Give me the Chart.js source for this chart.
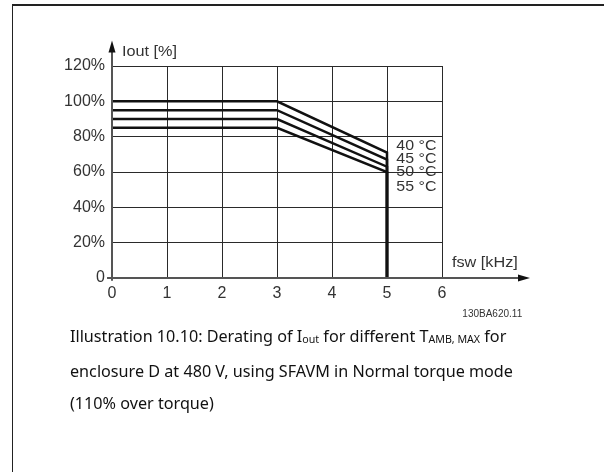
<!DOCTYPE html>
<html>
<head>
<meta charset="utf-8">
<script src="https://cdn.jsdelivr.net/npm/chart.js@4/dist/chart.umd.min.js"></script>
<style>
  html, body { margin: 0; padding: 0; background: #fff; }
  body { width: 604px; height: 472px; position: relative; overflow: hidden; }
  #frame { position: absolute; left: 12px; top: 4px; width: 620px; height: 500px;
           border-left: 1px solid #222; border-top: 2px solid #222; box-sizing: border-box; }
  #c { position: absolute; left: 0; top: 0; }
  #caption { position: absolute; left: 70px; top: 320px; font-family: 'Noto Sans', 'DejaVu Sans', sans-serif;
             font-size: 16.5px; line-height: 32px; color: #111; white-space: nowrap; }
  #caption div { transform-origin: 0 50%; }
  .sub { font-size: 0.66em; vertical-align: -0.12em; }
</style>
</head>
<body>
<div id="frame"></div>
<canvas id="c" width="604" height="472"></canvas>
<div id="caption">
  <div class="ln">Illustration 10.10: Derating of I<span class="sub">out</span> for different T<span class="sub">AMB, MAX</span> for</div>
  <div class="ln">enclosure D at 480 V, using SFAVM in Normal torque mode</div>
  <div class="ln">(110% over torque)</div>
</div>
<script>
// ---- data ----
const freqKHz   = [0, 3, 5, 5];
const iout40C   = [100, 100, 71, 0];
const iout45C   = [95, 95, 67, 0];
const iout50C   = [90, 90, 63, 0];
const iout55C   = [85, 85, 60, 0];
const tempLabels = ['40 °C', '45 °C', '50 °C', '55 °C'];
const tempLabelY = [75, 67.5, 59.8, 51.5];
const xTickValues = [0, 1, 2, 3, 4, 5, 6];
const yTickValues = [0, 20, 40, 60, 80, 100, 120];
const yAxisTitle = 'Iout [%]';
const xAxisTitle = 'fsw [kHz]';
const drawingCode = '130BA620.11';

const seriesList = [iout40C, iout45C, iout50C, iout55C];
const pts = arr => freqKHz.map((x, i) => ({ x: x, y: arr[i] }));

const FONT = "'Liberation Sans', Arial, sans-serif";
const TXT = '#333';

function stretchedText(ctx, text, x, y, sx) {
  ctx.save();
  ctx.translate(x, y);
  ctx.scale(sx, 1);
  ctx.fillText(text, 0, 0);
  ctx.restore();
}

const decor = {
  id: 'decor',
  afterDraw(chart) {
    const ctx = chart.ctx;
    const xs = chart.scales.x, ys = chart.scales.y;
    const x0 = xs.getPixelForValue(0), y0 = ys.getPixelForValue(0);
    ctx.save();
    // axes
    ctx.strokeStyle = '#555';
    ctx.fillStyle = '#111';
    ctx.lineWidth = 2;
    const yTop = ys.getPixelForValue(134.5);
    const xEnd = xs.getPixelForValue(7.6);
    ctx.beginPath();
    ctx.moveTo(x0, ys.getPixelForValue(-1.5));
    ctx.lineTo(x0, yTop + 10);
    ctx.moveTo(xs.getPixelForValue(-0.09), y0);
    ctx.lineTo(xEnd - 10, y0);
    ctx.stroke();
    // arrow heads
    ctx.beginPath();
    ctx.moveTo(x0, yTop); ctx.lineTo(x0 - 3.5, yTop + 12); ctx.lineTo(x0 + 3.5, yTop + 12); ctx.closePath();
    ctx.fill();
    ctx.beginPath();
    ctx.moveTo(xEnd, y0); ctx.lineTo(xEnd - 12, y0 - 3.5); ctx.lineTo(xEnd - 12, y0 + 3.5); ctx.closePath();
    ctx.fill();
    // titles
    ctx.fillStyle = TXT;
    ctx.textBaseline = 'middle';
    ctx.textAlign = 'left';
    ctx.font = '14.5px ' + FONT;
    stretchedText(ctx, yAxisTitle, xs.getPixelForValue(0.18), ys.getPixelForValue(127.8), 1.12);
    stretchedText(ctx, xAxisTitle, xs.getPixelForValue(6.18), ys.getPixelForValue(8.5), 1.12);
    // temperature labels
    tempLabels.forEach((t, i) => {
      stretchedText(ctx, t, xs.getPixelForValue(5.17), ys.getPixelForValue(tempLabelY[i]), 1.1);
    });
    // drawing code
    ctx.font = '10px ' + FONT;
    ctx.fillText(drawingCode, xs.getPixelForValue(6.37), ys.getPixelForValue(-20.3));
    ctx.restore();
  }
};

new Chart(document.getElementById('c'), {
  type: 'line',
  data: {
    datasets: seriesList.map((s, i) => ({
      label: tempLabels[i],
      data: pts(s),
      borderColor: '#111',
      borderWidth: 2.5,
      pointRadius: 0,
      tension: 0,
      fill: false
    }))
  },
  options: {
    responsive: false,
    animation: false,
    devicePixelRatio: 1,
    layout: { padding: { left: 0, top: 66, right: 162, bottom: 164 } },
    plugins: { legend: { display: false }, tooltip: { enabled: false } },
    scales: {
      x: {
        type: 'linear', min: 0, max: 6,
        afterFit: s => { s.height = 30; },
        afterBuildTicks: s => { s.ticks = xTickValues.map(v => ({ value: v })); },
        ticks: { stepSize: 1, color: TXT, font: { size: 16, family: FONT }, padding: 6, maxRotation: 0 },
        grid: { color: c => (c.tick && c.tick.value === 0) ? 'rgba(0,0,0,0)' : '#2a2a2a', lineWidth: 1, drawTicks: false },
        border: { display: false }
      },
      y: {
        type: 'linear', min: 0, max: 120,
        afterFit: s => { s.width = 112; },
        afterBuildTicks: s => { s.ticks = yTickValues.map(v => ({ value: v })); },
        ticks: { stepSize: 20, color: TXT, font: { size: 16, family: FONT }, padding: 7,
                 callback: v => v === 0 ? '0' : v + '%' },
        grid: { color: c => (c.tick && c.tick.value === 0) ? 'rgba(0,0,0,0)' : '#2a2a2a', lineWidth: 1, drawTicks: false },
        border: { display: false }
      }
    }
  },
  plugins: [decor]
});

// fit caption width to reference
(function () {
  const lines = document.querySelectorAll('#caption .ln');
  const w = lines[0].scrollWidth;
  const k = 443 / w;
  lines.forEach(l => { l.style.transform = 'scaleX(' + k + ')'; });
})();
</script>
</body>
</html>
